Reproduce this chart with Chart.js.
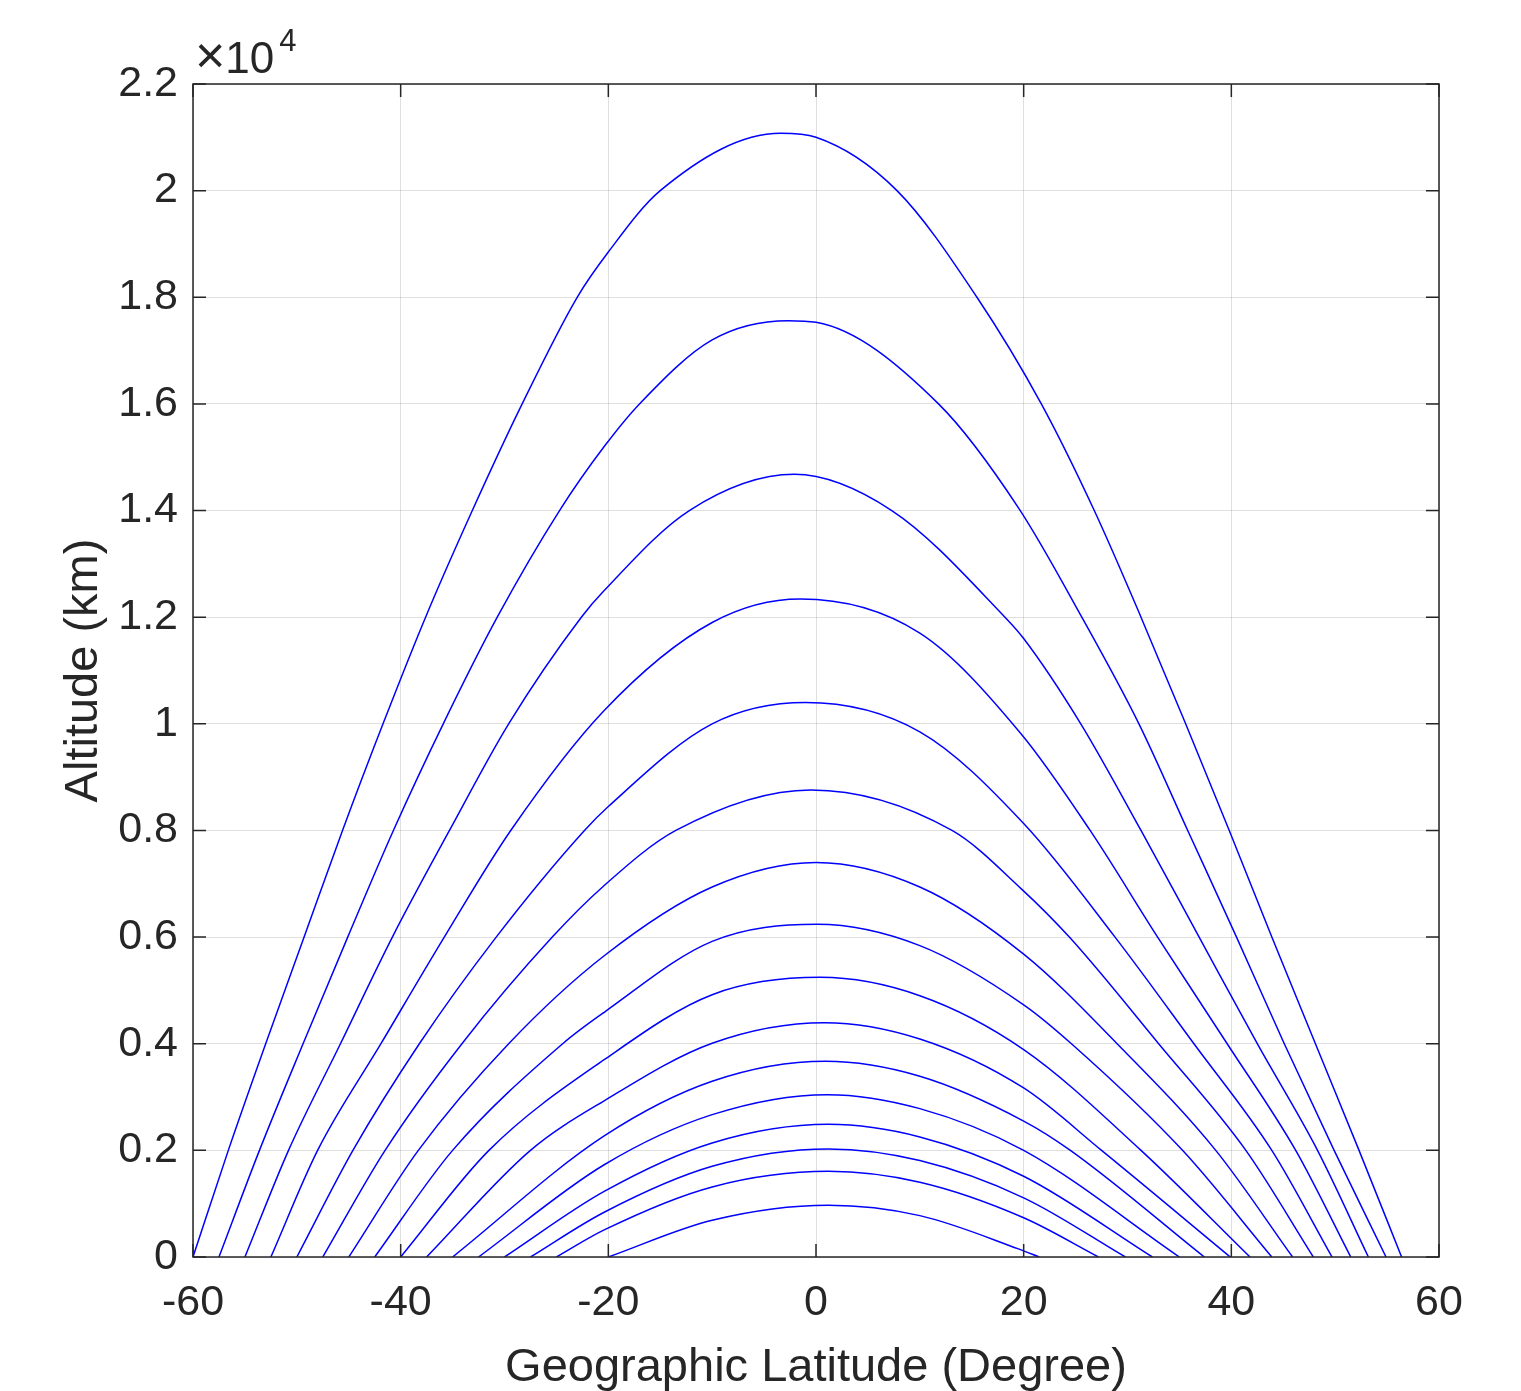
<!DOCTYPE html>
<html>
<head>
<meta charset="utf-8">
<script src="https://cdn.jsdelivr.net/npm/chart.js@4.4.1/dist/chart.umd.min.js"></script>
<style>
  html, body { margin: 0; padding: 0; background: #ffffff; }
  #wrap { width: 1521px; height: 1391px; }
</style>
</head>
<body>
<div id="wrap"><canvas id="altChart" width="1521" height="1391"></canvas></div>
<script>
// tick positions
const latTicks = [-60, -40, -20, 0, 20, 40, 60];
const altTicks = [0, 2000, 4000, 6000, 8000, 10000, 12000, 14000, 16000, 18000, 20000, 22000];

// arcs, [latitude (deg), altitude (km)], top arc first
const arc1 = [[-60, 0], [-56.6, 2000], [-53.0, 4000], [-49.3, 6000], [-45.6, 8000], [-41.7, 10000], [-37.6, 12000], [-33.1, 14000], [-28.3, 16000], [-23.0, 18000], [-20.0, 18850], [-15.0, 20000], [-3.4, 21075], [0, 21000], [7.8, 20000], [15.5, 18000], [21.7, 16000], [26.8, 14000], [31.3, 12000], [35.6, 10000], [39.8, 8000], [43.9, 6000], [48.1, 4000], [52.3, 2000], [56.4, 0]];
const arc2 = [[-57.5, 0], [-53.6, 2000], [-49.4, 4000], [-45.1, 6000], [-40.7, 8000], [-35.9, 10000], [-30.7, 12000], [-24.7, 14000], [-20.4, 15200], [-17.0, 16000], [-10.0, 17200], [-2.7, 17560], [0, 17530], [11.8, 16000], [19.5, 14050], [25.6, 12000], [31.1, 10000], [35.8, 8000], [40.5, 6000], [45.1, 4000], [49.9, 2000], [54.9, 0]];
const arc3 = [[-55, 0], [-50.8, 2000], [-45.8, 4000], [-40.8, 6000], [-35.3, 8000], [-29.6, 10000], [-22.6, 12000], [-20.4, 12500], [-12.2, 14000], [-2.1, 14680], [7.3, 14000], [18.2, 12000], [20.0, 11600], [25.5, 10000], [31.3, 8000], [36.9, 6000], [42.5, 4000], [48.3, 2000], [53.2, 0]];
const arc4 = [[-52.5, 0], [-48.0, 2000], [-41.9, 4000], [-35.8, 6000], [-29.4, 8000], [-20.4, 10250], [-10.0, 11900], [-1.5, 12340], [10.0, 11700], [19.8, 9800], [26.4, 8000], [32.9, 6000], [39.6, 4000], [46.2, 2000], [51.5, 0]];
const arc5 = [[-50, 0], [-44.6, 2000], [-38.2, 4000], [-30.8, 6000], [-22.3, 8000], [-20.0, 8450], [-10.0, 10000], [-1.0, 10400], [10.0, 9850], [20.0, 8130], [28.8, 6000], [36.4, 4000], [43.9, 2000], [49.7, 0]];
const arc6 = [[-47.5, 0], [-41.5, 2000], [-34.1, 4000], [-25.4, 6000], [-20.5, 6950], [-13.5, 8000], [-0.5, 8760], [13.1, 8000], [19.8, 6900], [24.4, 6000], [33.0, 4000], [41.4, 2000], [47.9, 0]];
const arc7 = [[-45, 0], [-38.3, 2000], [-29.6, 4000], [-20.4, 5650], [-10.0, 6940], [0, 7400], [10.0, 6940], [20.0, 5680], [29.0, 4000], [38.5, 2000], [45.9, 0]];
const arc8 = [[-42.5, 0], [-35.0, 2000], [-24.4, 4000], [-20.4, 4590], [-10.0, 5920], [0.1, 6240], [10.0, 5840], [20.0, 4730], [24.6, 4000], [35.3, 2000], [43.9, 0]];
const arc9 = [[-40, 0], [-31.5, 2000], [-20.4, 3700], [-10.0, 4920], [0.4, 5245], [10.0, 4900], [20.0, 3890], [31.3, 2000], [41.8, 0]];
const arc10 = [[-37.5, 0], [-27.5, 2000], [-20.4, 2930], [-10.0, 4010], [0.8, 4395], [10.0, 4090], [20.0, 3170], [27.5, 2000], [39.9, 0]];
const arc11 = [[-35, 0], [-20.4, 2270], [-10.0, 3295], [0.9, 3670], [10.0, 3390], [20.0, 2550], [24.5, 2000], [37.4, 0]];
const arc12 = [[-32.5, 0], [-20.4, 1730], [-10.0, 2670], [1.1, 3045], [10.0, 2783], [20.0, 2000], [35.0, 0]];
const arc13 = [[-30, 0], [-20.4, 1230], [-10.0, 2139], [1.2, 2489], [10.0, 2252], [20.0, 1515], [32.4, 0]];
const arc14 = [[-27.5, 0], [-20.4, 840], [-10.0, 1701], [1.2, 2026], [10.0, 1808], [20.0, 1110], [29.8, 0]];
const arc15 = [[-25, 0], [-20.4, 508], [-10.0, 1314], [1.2, 1607], [10.0, 1401], [20.0, 735], [27.2, 0]];
const arc16 = [[-20, 0], [-10.0, 689], [1.2, 970], [10.0, 776], [19.5, 152], [21.5, 0]];

const arcs = [arc1, arc2, arc3, arc4, arc5, arc6, arc7, arc8, arc9, arc10, arc11, arc12, arc13, arc14, arc15, arc16];

const AXIS_COLOR = "#262626";
const GRID_COLOR = "rgba(38, 38, 38, 0.15)";
const FONT = "'Liberation Sans', Arial, Helvetica, sans-serif";

// MATLAB style box, inward ticks, axis titles and the x10^4 multiplier
const matlabAxes = {
  id: "matlabAxes",
  afterDraw(chart) {
    const { ctx, chartArea: a, scales } = chart;
    const tl = 13;
    ctx.save();
    ctx.strokeStyle = AXIS_COLOR;
    ctx.lineWidth = 1.5;
    ctx.strokeRect(a.left, a.top, a.right - a.left, a.bottom - a.top);

    ctx.beginPath();
    latTicks.forEach((v) => {
      const px = scales.x.getPixelForValue(v);
      ctx.moveTo(px, a.bottom);
      ctx.lineTo(px, a.bottom - tl);
      ctx.moveTo(px, a.top);
      ctx.lineTo(px, a.top + tl);
    });
    altTicks.forEach((v) => {
      const py = scales.y.getPixelForValue(v);
      ctx.moveTo(a.left, py);
      ctx.lineTo(a.left + tl, py);
      ctx.moveTo(a.right, py);
      ctx.lineTo(a.right - tl, py);
    });
    ctx.stroke();

    ctx.fillStyle = AXIS_COLOR;
    ctx.textBaseline = "alphabetic";

    // x10^4
    ctx.textAlign = "left";
    ctx.font = "52px " + FONT;
    ctx.fillText("\u00d7", a.left + 2, a.top - 11);
    let w = ctx.measureText("\u00d7").width;
    ctx.font = "44px " + FONT;
    ctx.fillText("10", a.left + 2 + w, a.top - 11);
    w += ctx.measureText("10").width;
    ctx.font = "31px " + FONT;
    ctx.fillText("4", a.left + 2 + w + 5, a.top - 33);

    // axis titles
    ctx.font = "47px " + FONT;
    ctx.textAlign = "center";
    ctx.fillText("Geographic Latitude (Degree)", (a.left + a.right) / 2, 1381);

    ctx.translate(97, (a.top + a.bottom) / 2);
    ctx.rotate(-Math.PI / 2);
    ctx.fillText("Altitude (km)", 0, 0);
    ctx.restore();
  },
};

const ctx = document.getElementById("altChart").getContext("2d");

new Chart(ctx, {
  type: "line",
  data: {
    datasets: arcs.map((arc, i) => ({
      label: "arc " + (i + 1),
      data: arc.map((p) => ({ x: p[0], y: p[1] })),
      borderColor: "#0000ff",
      borderWidth: 1.5,
      pointRadius: 0,
      fill: false,
      cubicInterpolationMode: "monotone",
    })),
  },
  options: {
    responsive: false,
    animation: false,
    layout: { padding: { top: 84, right: 82, left: 0, bottom: 0 } },
    plugins: {
      legend: { display: false },
      tooltip: { enabled: false },
    },
    scales: {
      x: {
        type: "linear",
        min: -60,
        max: 60,
        afterBuildTicks: (s) => {
          s.ticks = latTicks.map((v) => ({ value: v }));
        },
        afterFit: (s) => {
          s.height = 134;
        },
        grid: { color: GRID_COLOR, lineWidth: 1, drawTicks: false },
        border: { display: false },
        ticks: {
          padding: 20,
          color: AXIS_COLOR,
          font: { family: FONT, size: 43 },
          maxRotation: 0,
          callback: (v) => String(v),
        },
      },
      y: {
        type: "linear",
        min: 0,
        max: 22000,
        afterBuildTicks: (s) => {
          s.ticks = altTicks.map((v) => ({ value: v }));
        },
        afterFit: (s) => {
          s.width = 193;
        },
        grid: { color: GRID_COLOR, lineWidth: 1, drawTicks: false },
        border: { display: false },
        ticks: {
          padding: 15,
          color: AXIS_COLOR,
          font: { family: FONT, size: 43 },
          callback: (v) => String(Number((v / 10000).toFixed(1))),
        },
      },
    },
  },
  plugins: [matlabAxes],
});
</script>
</body>
</html>
